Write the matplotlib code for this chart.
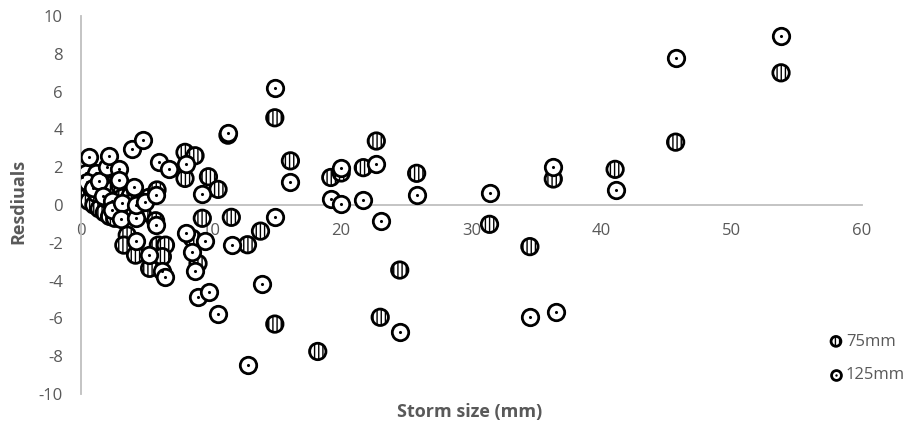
import matplotlib.pyplot as plt

plt.rcParams['font.family'] = ['Open Sans', 'DejaVu Sans']
plt.rcParams['axes.unicode_minus'] = False

# residuals, 75mm series
x_75 = [0.1, 0.1, 0.2, 0.3, 0.5, 0.6, 0.8, 1.0, 1.2, 1.4, 1.6, 1.8, 2.0, 2.2, 2.4, 2.6,
        2.8, 3.0, 3.2, 3.4, 3.8, 4.1, 4.6, 5.2, 5.85, 2.2, 1.2,
        3.56, 3.3, 4.2, 5.95, 6.5, 6.26, 5.28, 4.7, 5.74, 8.0, 8.77, 8.0, 9.8, 10.54,
        9.33, 11.56, 8.56, 9.0, 12.8, 13.8, 14.9, 11.3, 14.9, 16.1, 19.2, 20.0, 21.7,
        22.7, 25.8, 24.5, 23.0, 18.2, 31.4, 34.5, 36.3, 41.05, 45.7, 53.8]
y_75 = [0.6, 0.9, 1.2, 0.4, 1.5, 0.2, 0.9, 0.0, 0.6, -0.2, 1.1, -0.4, 0.3, -0.6, 0.8, -0.7,
        0.0, 1.0, 0.4, -0.3, 0.5, 0.2, -0.4, 0.4, 0.8, 1.9, 1.6,
        -1.59, -2.12, -2.65, -2.12, -2.12, -2.73, -3.35, -0.44, -0.83, 2.79, 2.61, 1.41, 1.5, 0.83,
        -0.7, -0.65, -1.76, -3.09, -2.1, -1.38, -6.3, 3.7, 4.62, 2.34, 1.46, 1.7, 1.98,
        3.39, 1.68, -3.44, -5.94, -7.75, -1.02, -2.2, 1.38, 1.89, 3.33, 7.0]

# 125mm series
x_125 = [0.1, 0.36, 0.62, 1.13, 0.5, 0.9, 1.4, 2.0, 2.15, 2.92, 2.92, 4.08, 1.7, 2.4, 2.4,
         3.13, 3.05, 4.2, 4.2, 4.9, 5.8, 5.74, 4.2, 5.23, 6.2, 6.5, 3.95, 4.77, 6.0, 6.77,
         8.05, 9.28, 11.3, 8.05, 9.54, 11.6, 8.51, 8.8, 9.0, 9.85, 10.56, 12.85, 13.9, 14.9,
         14.9, 16.1, 19.2, 20.0, 20.0, 21.7, 22.7, 23.05, 25.8, 24.5, 31.4, 34.5, 36.5, 36.3,
         41.1, 45.7, 53.8]
y_125 = [1.5, 1.68, 2.56, 1.68, 1.2, 0.9, 1.3, 2.03, 2.59, 1.89, 1.32, 0.97, 0.5, 0.2, -0.26,
         0.09, -0.76, -0.7, 0.0, 0.17, 0.53, -1.06, -1.89, -2.65, -3.49, -3.83, 2.96, 3.44, 2.29, 1.9,
         2.2, 0.58, 3.79, -1.46, -1.89, -2.12, -2.5, -3.49, -4.85, -4.59, -5.78, -8.47, -4.2, -0.65,
         6.2, 1.2, 0.3, 1.94, 0.05, 0.26, 2.2, -0.83, 0.53, -6.73, 0.65, -5.9, -5.65, 2.03,
         0.81, 7.8, 8.96]

grey = '#595959'

fig = plt.figure(figsize=(9.09, 4.25), dpi=100)
ax = fig.add_axes([0.089, 0.073, 0.859, 0.889])

sc75 = ax.scatter(x_75, y_75, s=140, facecolor='white', edgecolor='black', linewidth=2.0,
                  hatch='||||', zorder=3)
sc125 = ax.scatter(x_125, y_125, s=140, facecolor='white', edgecolor='black', linewidth=2.0,
                   zorder=4)
dots = ax.scatter(x_125, y_125, s=1.5, color='black', zorder=5)

ax.set_xlim(0, 60)
ax.set_ylim(-10, 10)
ax.set_xticks(range(0, 61, 10))
ax.set_yticks(range(-10, 11, 2))

for side in ['top', 'right']:
    ax.spines[side].set_visible(False)
ax.spines['bottom'].set_position(('data', 0))
ax.spines['bottom'].set_color('#bfbfbf')
ax.spines['left'].set_color('#bfbfbf')
ax.spines['bottom'].set_linewidth(1.3)
ax.spines['left'].set_linewidth(1.3)
ax.tick_params(length=0, labelsize=12, colors=grey)
ax.tick_params(axis='x', pad=13)
ax.tick_params(axis='y', pad=13)

fig.text(0.02, 0.525, 'Resdiuals', rotation=90, ha='center', va='center',
         fontsize=13, fontweight='bold', color=grey)
fig.text(0.517, 0.031, 'Storm size (mm)', ha='center', va='center',
         fontsize=13, fontweight='bold', color=grey)

leg = fig.legend(handles=[sc75, (sc125, dots)], labels=['75mm', '125mm'],
                 loc='upper left', bbox_to_anchor=(0.894, 0.25), markerscale=0.6,
                 frameon=False, fontsize=12, labelspacing=1.05, handletextpad=0.1,
                 handlelength=1.0, labelcolor=grey, scatterpoints=1)

fig.savefig('out.png', dpi=100)
